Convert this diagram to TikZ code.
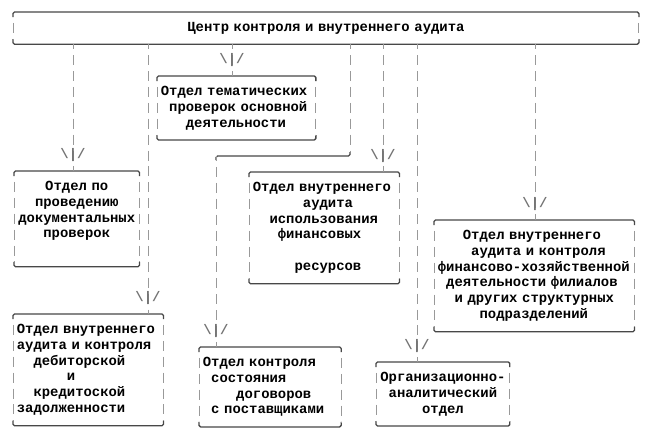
\documentclass[tikz,border=0pt]{standalone}
\usepackage{fontspec}
\setmonofont{Liberation Mono}
\newdimen\cw \cw=8.34pt
\newdimen\rh \rh=15.9pt
\newcommand\ind[1]{\hspace*{#1\cw}}
\tikzset{
  asciitext/.style={font=\ttfamily\bfseries\fontsize{13.9}{15.9}\selectfont},
  otdel/.style={asciitext,anchor=north west,inner xsep={0.5*\cw-0.5pt},inner ysep={0.5*\rh},
    text width={#1*\cw+1pt},align=left,execute at begin node=\strut,execute at end node=\strut},
  hline/.style={draw=black!72,line width=1.3pt,rounded corners=1.5pt},
  bok/.style={draw=black!40,line width=1pt,dash pattern=on 10pt off 5.9pt,dash phase=10pt},
  link/.style={draw=black!40,line width=1pt,dash pattern=on 10pt off 5.9pt,dash phase=5pt},
  strelka/.style={asciitext,text=black!55,inner sep=0pt}
}
\begin{document}
\begin{tikzpicture}[x=1pt,y=-1pt,line join=round]
  \useasboundingbox (0,0) rectangle (667,432);
  % центр
  \node[otdel=74,align=center] (top) at (13,12) {Центр контроля и внутреннего аудита};
  % отделы
  \node[otdel=18] (temat) at (157,76) {Отдел тематических\\\ind1проверок основной\\\ind3деятельности};
  \node[otdel=14,align=center] (dokum) at (14,171) {Отдел по\\проведению\\документальных\\проверок\\\mbox{}};
  \node[otdel=17] (ispolz) at (249,172) {Отдел внутреннего\\\ind6аудита\\\ind2использования\\\ind3финансовых\\\mbox{}\\\ind5ресурсов};
  \node[otdel=23] (finans) at (434,220) {\ind3Отдел внутреннего\\\ind4аудита и контроля\\финансово-хозяйственной\\\ind1деятельности филиалов\\\ind2и других структурных\\\ind5подразделений};
  \node[otdel=17] (debit) at (13,314) {Отдел внутреннего\\аудита и контроля\\\ind2дебиторской\\\ind6и\\\ind2кредитоской\\задолженности};
  \node[otdel=16] (dogov) at (199,347) {Отдел контроля\\\ind1состояния\\\ind4договоров\\\ind1с поставщиками};
  \node[otdel=15,align=center] (org) at (376,362) {Организационно-\\аналитический\\отдел};
  % рамки
  \foreach \n in {top,temat,dokum,ispolz,finans,debit,dogov,org} {
    \draw[hline] ([yshift=-5pt]\n.north west) -- (\n.north west) -- (\n.north east) -- ([yshift=-5pt]\n.north east);
    \draw[hline] ([yshift=5pt]\n.south west) -- (\n.south west) -- (\n.south east) -- ([yshift=5pt]\n.south east);
    \draw[bok] ([yshift=-5pt]\n.north west) -- ([yshift=5pt]\n.south west);
    \draw[bok] ([yshift=-5pt]\n.north east) -- ([yshift=5pt]\n.south east);
  }
  % связи
  \foreach \x/\b in {73/dokum,148/debit,232/temat,383/ispolz,417/org,535/finans} {
    \draw[link] (\x,0 |- top.south) -- (\x,0 |- \b.north);
    \path (\x,0 |- \b.north) ++(0,-15.5) node[strelka] (s-\b) {\textbackslash|/};
  }
  % излом к отделу договоров
  \coordinate (k) at (216,156);
  \draw[link] (350,0 |- top.south) -- (350,152);
  \draw[hline] ([yshift=-4pt]k) -- (k) -- (350,156) -- (350,152);
  \draw[link] (k) -- (k |- dogov.north);
  \path (k |- dogov.north) ++(0,-15.5) node[strelka] (s-dogov) {\textbackslash|/};
\end{tikzpicture}
\end{document}
